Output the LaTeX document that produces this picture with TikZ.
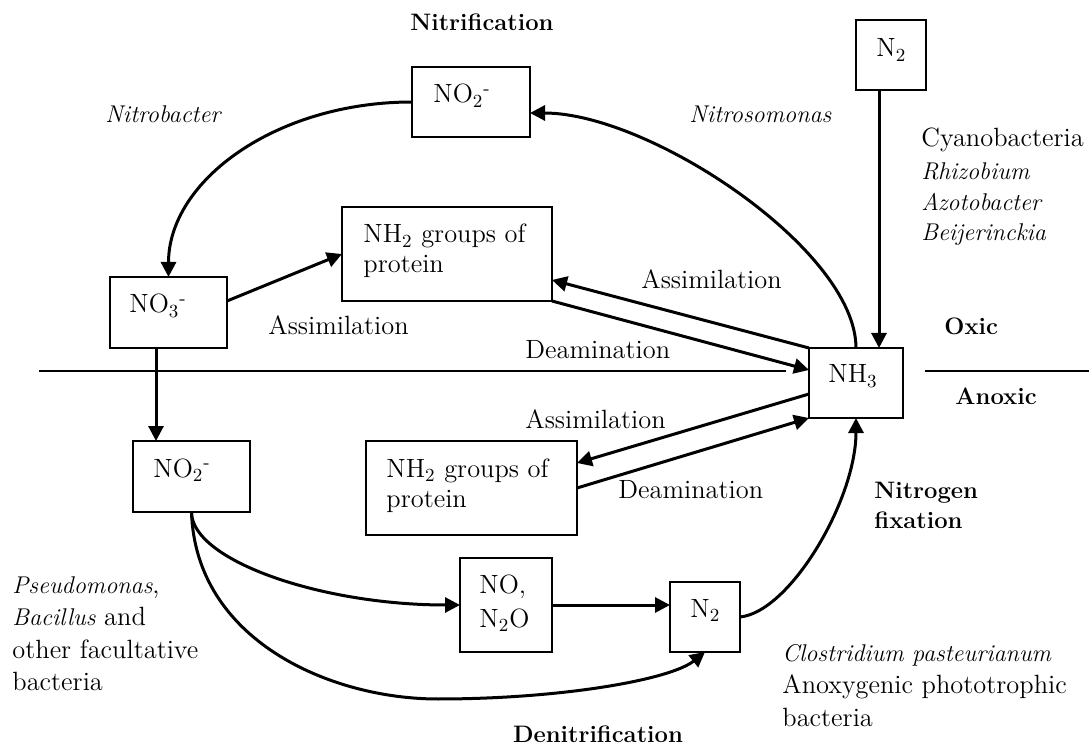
\documentclass[tikz,border=0pt]{standalone}
\usepackage{fontspec}
\usetikzlibrary{arrows.meta,calc}
\newcommand\spec[1]{{\fontsize{12.1}{16}\selectfont\itshape #1}}
\newcommand\hd[1]{{\fontsize{11.9}{16}\selectfont\bfseries #1}}
\newcommand\nsub[1]{\textsubscript{#1}}
\begin{document}
\begin{tikzpicture}[x=0.5pt,y=-0.5pt,
  box/.style={draw,line width=0.9pt,inner sep=0pt,outer sep=0pt,anchor=north west},
  txt/.style={inner sep=0pt,anchor=base west,font=\fontsize{13.2}{16}\selectfont},
  ctxt/.style={inner sep=0pt,anchor=base,font=\fontsize{13.2}{16}\selectfont},
  arr/.style={line width=1.5pt,-{Triangle[length=7.5pt,width=7.5pt]}},
  thinline/.style={line width=0.65pt}]
\useasboundingbox (0,0) rectangle (1089,749);

% boxes
\node[box,minimum width=59pt,minimum height=35pt] (no2t) at (412,67) {};
\node[box,minimum width=58.5pt,minimum height=35.5pt] (no3) at (110,277) {};
\node[box,minimum width=105pt,minimum height=47pt] (nh2t) at (342,207) {};
\node[box,minimum width=35pt,minimum height=35pt] (n2t) at (856,20) {};
\node[box,minimum width=47pt,minimum height=35pt] (nh3) at (809,348) {};
\node[box,minimum width=58.5pt,minimum height=35.5pt] (no2b) at (133,441) {};
\node[box,minimum width=105.5pt,minimum height=47pt] (nh2b) at (366,441) {};
\node[box,minimum width=46pt,minimum height=47pt] (nox) at (460,558) {};
\node[box,minimum width=35pt,minimum height=35pt] (n2b) at (670,582) {};

% box texts
\node[txt] (tno2t) at (433,103) {NO\nsub{2}\textsuperscript{-}};
\node[txt] (tno3) at (129,313) {NO\nsub{3}\textsuperscript{-}};
\node[txt] (tnh2ta) at (363,243) {NH\nsub{2} groups of};
\node[txt] (tnh2tb) at (363,273) {protein};
\node[txt] (tn2t) at (876,57) {N\nsub{2}};
\node[txt] (tnh3) at (828,383) {NH\nsub{3}};
\node[txt] (tno2b) at (153,477) {NO\nsub{2}\textsuperscript{-}};
\node[txt] (tnh2ba) at (386,477) {NH\nsub{2} groups of};
\node[txt] (tnh2bb) at (386,508) {protein};
\node[txt] (tnoxa) at (479,593) {NO,};
\node[txt] (tnoxb) at (479,627) {N\nsub{2}O};
\node[txt] (tn2b) at (690,617) {N\nsub{2}};

% free labels
\node[ctxt] (lnitri) at (482,31) {\hd{Nitrification}};
\node[txt] (lnitrob) at (105,123) {\spec{Nitrobacter}};
\node[txt] (lnitros) at (689,123) {\spec{Nitrosomonas}};
\node[txt] (lcy1) at (921,147) {Cyanobacteria};
\node[txt] (lcy2) at (921,180) {\spec{Rhizobium}};
\node[txt] (lcy3) at (921,211) {\spec{Azotobacter}};
\node[txt] (lcy4) at (921,241) {\spec{Beijerinckia}};
\node[txt] (lass1) at (641,289) {Assimilation};
\node[txt] (lass2) at (268,335) {Assimilation};
\node[txt] (ldea1) at (525,358) {Deamination};
\node[txt] (loxic) at (944,335) {\hd{Oxic}};
\node[txt] (lanox) at (955,405) {\hd{Anoxic}};
\node[txt] (lass3) at (525,429) {Assimilation};
\node[txt] (ldea2) at (618,498) {Deamination};
\node[txt] (lnf1) at (874,498) {\hd{Nitrogen}};
\node[txt] (lnf2) at (874,528) {\hd{fixation}};
\node[txt] (lps1) at (12,593) {\spec{Pseudomonas},};
\node[txt] (lps2) at (12,625) {\spec{Bacillus} and};
\node[txt] (lps3) at (12,658) {other facultative};
\node[txt] (lps4) at (12,690) {bacteria};
\node[txt] (lcl1) at (782,661) {\spec{Clostridium pasteurianum}};
\node[txt] (lcl2) at (782,693) {Anoxygenic phototrophic};
\node[txt] (lcl3) at (782,726) {bacteria};
\node[ctxt] (ldeni) at (598,742) {\hd{Denitrification}};

% oxic / anoxic boundary
\coordinate (hlA) at (39,371);
\coordinate (hlB) at (786,371);
\coordinate (hrA) at (925,371);
\coordinate (hrB) at (1089,371);
\draw[thinline] (hlA) -- (hlB);
\draw[thinline] (hrA) -- (hrB);

% connectors
\draw[arr] (no2t.west) .. controls +(-135,0) and +(0,-97) .. (no3.north);
\draw[arr] (nh3.north) .. controls +(0,-98) and +(120,0) .. ([yshift=-5.5pt]no2t.east);
\draw[arr] ([xshift=-6pt]n2t.south) -- ([xshift=-6pt]n2t.south |- nh3.north);
\draw[arr] ([yshift=5.75pt]no3.east) -- (nh2t.west);
\draw[arr] (nh3.north west) -- ([yshift=-13pt]nh2t.east);
\draw[arr] (nh2t.south east) -- ([yshift=6.5pt]nh3.west);
\draw[arr] ([xshift=-6.25pt]no3.south) -- ([xshift=-6.25pt]no3.south |- no2b.north);
\draw[arr] ([yshift=-5.5pt]nh3.west) -- ([yshift=12.5pt]nh2b.east);
\draw[arr] (nh2b.east) -- (nh3.south west);
\draw[arr] (no2b.south) .. controls +(0,48) and +(-140,0) .. (nox.west);
\draw[arr] (no2b.south) .. controls +(4,128) and (330,699) .. (438,699)
   .. controls (560,699) and (670,680) .. (n2b.south);
\draw[arr] (nox.east) -- (nox.east -| n2b.west);
\draw[arr] (n2b.east) .. controls +(50,-5) and +(0,82) .. (nh3.south);
\end{tikzpicture}
\end{document}
